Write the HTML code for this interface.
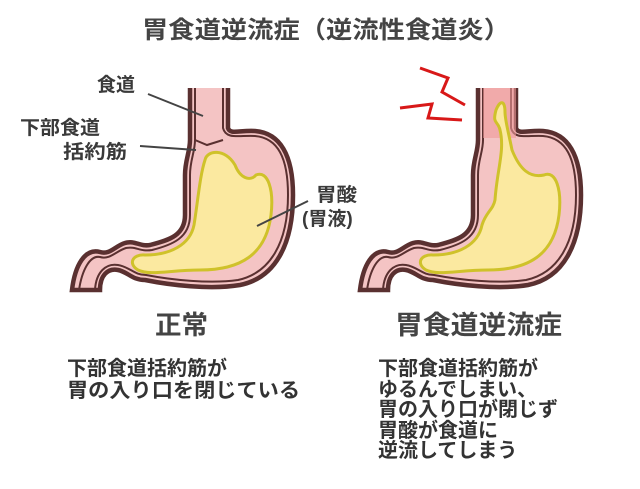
<!DOCTYPE html>
<html><head><meta charset="utf-8"><style>
body{margin:0;width:640px;height:484px;background:#fff;overflow:hidden;font-family:"Liberation Sans","Noto Sans CJK JP",sans-serif;}
</style></head><body>
<svg width="640" height="484" xmlns="http://www.w3.org/2000/svg" style="font-family:'Liberation Sans','Noto Sans CJK JP',sans-serif;font-weight:bold;fill:#3a3a3a">
<defs>
<g id="st">
<path d="M190,88 L190,140 C190,152 185,160 185,175 L185,215 C185,235 170,240 150,245 C140,247 135,240 125,243 C115,246 110,255 100,252 C85,248 75,265 72,290 L100,290 C100,275 108,268 118,270 C128,272 132,280 145,280 C170,285 210,290 240,285 C275,278 293,245 293,195 C293,155 280,133 255,131 C240,130 230,135 228,128 L228,88" fill="#f4c4c4" stroke="#5a3030" stroke-width="4.5"/>
<path d="M195,88 L195,140 C195,152 190,160 190,175 L190,215 C190,238 172,245 152,250 C140,252 136,246 126,248 C116,251 110,260 100,257 C90,255 82,270 79,290 M95,290 C96,272 106,263 118,265 C130,267 134,275 146,275 C172,280 210,284 238,280 C270,273 288,243 288,195 C288,158 278,138 255,136 C240,135 226,140 223,128 L223,88" fill="none" stroke="#5a3030" stroke-width="2"/>
</g>
</defs>
<text x="142" y="38" font-size="24" fill="#444" textLength="368" lengthAdjust="spacingAndGlyphs">胃食道逆流症（逆流性食道炎）</text>
<use href="#st"/>
<path d="M195,140 L207,145 L223,140" fill="none" stroke="#5a3030" stroke-width="2"/>
<path d="M205,160 C207,150 225,148 235,165 C240,178 250,182 256,175 C268,170 274,190 271,215 C266,255 240,270 200,270 C170,270 150,276 138,270 C128,264 132,254 145,255 C170,255 190,245 194,225 C198,200 200,175 205,160 Z" fill="#fbe9a0" stroke="#cfc22a" stroke-width="3"/>
<line x1="148" y1="94" x2="203" y2="116" stroke="#444" stroke-width="2"/>
<line x1="140" y1="146" x2="196" y2="150" stroke="#444" stroke-width="2"/>
<line x1="257" y1="226" x2="308" y2="201" stroke="#444" stroke-width="2"/>
<g font-size="19">
<text x="97" y="91" textLength="38" lengthAdjust="spacingAndGlyphs">食道</text>
<text x="20" y="134" textLength="80" lengthAdjust="spacingAndGlyphs">下部食道</text>
<text x="63" y="158" textLength="64" lengthAdjust="spacingAndGlyphs">括約筋</text>
<text x="316" y="201" textLength="41" lengthAdjust="spacingAndGlyphs">胃酸</text>
<text x="302" y="225">(胃液)</text>
</g>
<g transform="translate(288,0)"><use href="#st"/></g>
<rect x="483" y="88" width="33" height="50" fill="#ef9a9a" opacity="0.6"/>
<path d="M495,200 C497,170 505,150 500,130 C498,120 492,125 496,110 C500,100 505,100 505,112 C505,120 508,130 512,150 C520,170 530,178 544,175 C556,170 562,190 559,215 C554,255 528,270 488,270 C458,270 438,276 426,270 C416,264 420,254 433,255 C458,255 478,245 482,225 C486,212 493,210 495,200 Z" fill="#fbe9a0" stroke="#cfc22a" stroke-width="3"/>
<path d="M420,68 L448,78 L442,92 L465,105 M400,108 L432,104 L428,118 L462,120" fill="none" stroke="#d81818" stroke-width="3"/>
<text x="155" y="334" font-size="26" fill="#444" textLength="53" lengthAdjust="spacingAndGlyphs">正常</text>
<text x="395" y="334" font-size="26" fill="#444" textLength="167" lengthAdjust="spacingAndGlyphs">胃食道逆流症</text>
<g font-size="20" fill="#333">
<text x="67" y="375">下部食道括約筋が</text>
<text x="67" y="397" textLength="233" lengthAdjust="spacingAndGlyphs">胃の入り口を閉じている</text>
<text x="378" y="375">下部食道括約筋が</text>
<text x="378" y="396">ゆるんでしまい、</text>
<text x="378" y="416">胃の入り口が閉じず</text>
<text x="378" y="437">胃酸が食道に</text>
<text x="378" y="457">逆流してしまう</text>
</g>
</svg>
</body></html>
